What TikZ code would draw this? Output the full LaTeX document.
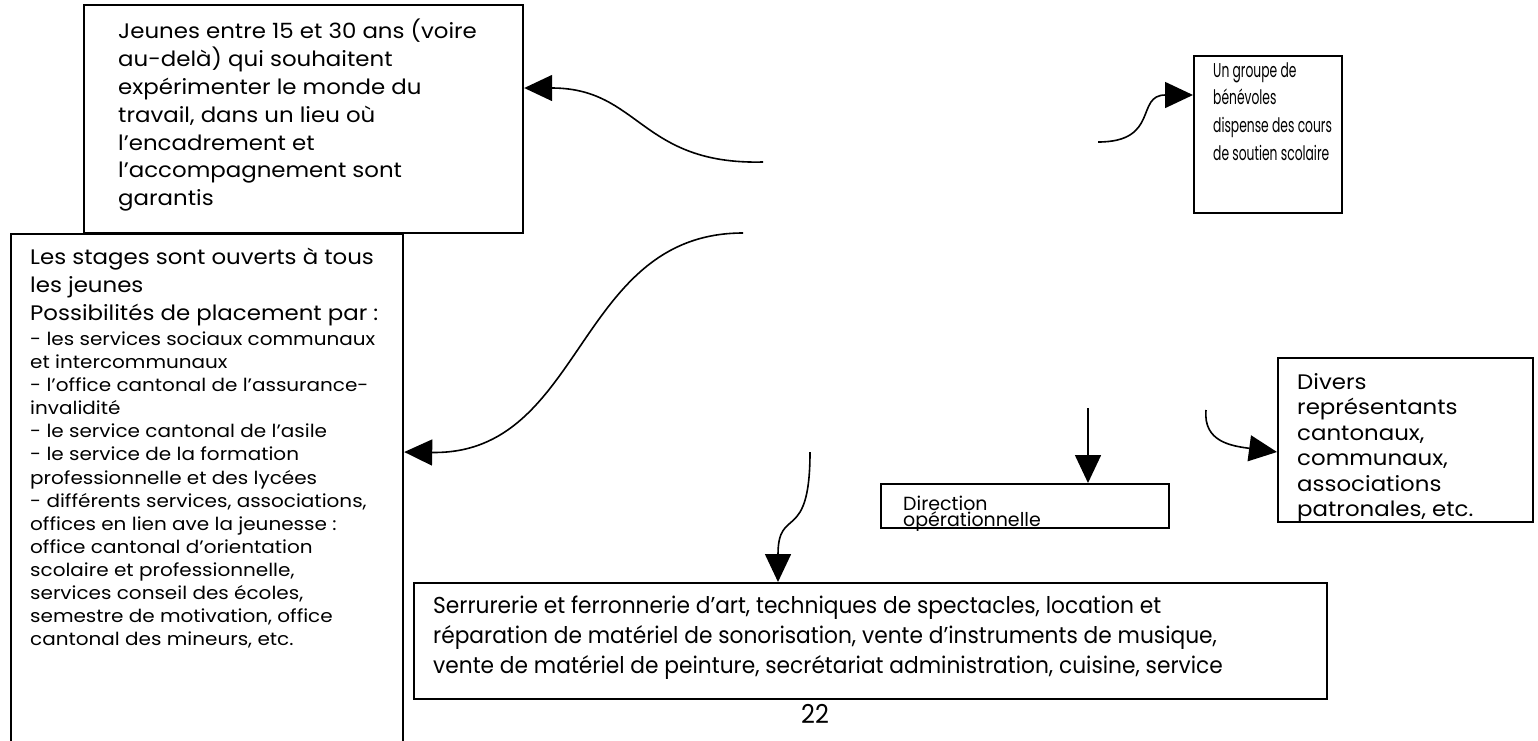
\documentclass[tikz,border=0pt]{standalone}
\usepackage{fontspec}
\setmainfont{Poppins}
\newfontfamily\widefont[FakeStretch=1.09]{Poppins}
\newfontfamily\smallfont[FakeStretch=1.11]{Poppins}
\newfontfamily\condfont[FakeStretch=0.945]{Poppins}
\newfontfamily\pagefont[FakeStretch=0.925]{Poppins}
\newfontfamily\narrowfont[FakeStretch=0.615]{Poppins}
\usetikzlibrary{arrows.meta}
\begin{document}
\begin{tikzpicture}[x=1pt,y=-1pt,
  box/.style={draw=black,line width=2.2pt,inner sep=0pt,anchor=north west},
  txt/.style={inner sep=0pt,anchor=north west,align=left,text=black},
  big/.style={font=\widefont\fontsize{21}{27.8}\selectfont},
  small/.style={font=\smallfont\fontsize{18}{23.1}\selectfont},
  conn/.style={line width=1.6pt,-{Triangle[length=28pt,width=26pt]}}]
\useasboundingbox (0,0) rectangle (1538,740);
\begin{scope}
\clip (0,0) rectangle (1538,740);
% boxes
\node[box,minimum width=439pt,minimum height=228pt] (jeunes) at (83,4) {};
\node[box,minimum width=148pt,minimum height=157pt] (groupe) at (1193,55) {};
\node[box,minimum width=392pt,minimum height=520pt] (stages) at (10,233) {};
\node[box,minimum width=255pt,minimum height=164pt] (divers) at (1277,357) {};
\node[box,minimum width=288pt,minimum height=44pt] (direction) at (880,483) {};
\node[box,minimum width=913pt,minimum height=116pt] (serrurerie) at (413,582) {};
\end{scope}
% texts
\node[txt,big] (jeunesT) at (118,19) {Jeunes entre 15 et 30 ans (voire\\au-delà) qui souhaitent\\expérimenter le monde du\\travail, dans un lieu où\\l’encadrement et\\l’accompagnement sont\\garantis};
\node[txt,font=\narrowfont\fontsize{20}{27.8}\selectfont] (groupeT) at (1213,62) {Un groupe de\\bénévoles\\dispense des cours\\de soutien scolaire};
\node[txt,big] (stagesT) at (30,248) {Les stages sont ouverts à tous\\les jeunes\\Possibilités de placement par :};
\node[txt,small] (stagesS) at (30,331.5) {- les services sociaux communaux\\et intercommunaux\\- l’office cantonal de l’assurance-\\invalidité\\- le service cantonal de l’asile\\- le service de la formation\\professionnelle et des lycées\\- différents services, associations,\\offices en lien ave la jeunesse :\\office cantonal d’orientation\\scolaire et professionnelle,\\services conseil des écoles,\\semestre de motivation, office\\cantonal des mineurs, etc.};
\node[txt,font=\widefont\fontsize{21}{25.5}\selectfont] (diversT) at (1297,373) {Divers\\représentants\\cantonaux,\\communaux,\\associations\\patronales, etc.};
\node[txt,font=\fontsize{19}{13}\selectfont] (directionT) at (903,496) {Direction\\opérationnelle};
\node[txt,font=\condfont\fontsize{23}{30}\selectfont] (serrurerieT) at (433,596) {Serrurerie et ferronnerie d’art, techniques de spectacles, location et\\réparation de matériel de sonorisation, vente d’instruments de musique,\\vente de matériel de peinture, secrétariat administration, cuisine, service};
\begin{scope}
\clip (700,699.5) rectangle (900,740);
\node[inner sep=0pt,anchor=base,font=\pagefont\fontsize{26}{26}\selectfont] (page) at (815,723) {22};
\end{scope}
% connector tails
\coordinate (tA) at (763,162);
\coordinate (tB) at (1098,142);
\coordinate (tC) at (743,233);
\coordinate (tD) at (810,452);
\coordinate (tE) at (1088,408);
\coordinate (tF) at (1206,410);
% connectors
\draw[conn] (tA) .. controls (640,165) and (640,88) .. (jeunes.east |- 0,88);
\draw[conn] (tB) .. controls (1160,142) and (1135,95) .. (groupe.west |- 0,95);
\draw[conn] (tC) .. controls (575,233) and (585,455) .. (stages.east |- 0,452);
\draw[conn] (tD) .. controls (810,545) and (778,505) .. (serrurerie.north -| 778,0);
\draw[conn] (tE) -- (direction.north -| 1088,0);
\draw[conn] (tF) .. controls (1203,442) and (1232,446) .. (divers.west |- 0,452);
\end{tikzpicture}
\end{document}
